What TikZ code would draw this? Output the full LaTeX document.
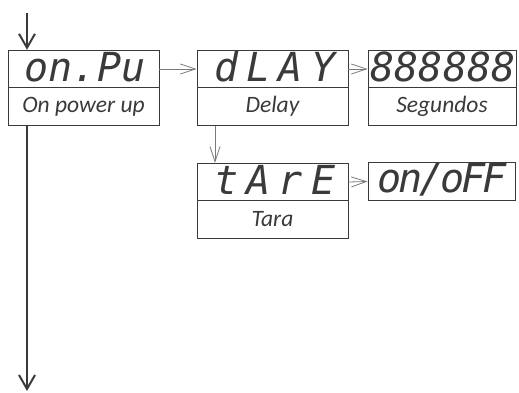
\documentclass[tikz,border=0pt]{standalone}
\usepackage{fontspec}
\setmainfont{Carlito}
\newfontfamily\segfont{DejaVu Sans Mono}
\usetikzlibrary{arrows.meta}
\definecolor{ink}{HTML}{3A3A3A}
\definecolor{thin}{HTML}{7A7A7A}
\tikzset{
  x=1pt,y=-1pt,
  boxpart/.style={draw=ink,line width=0.9pt,inner sep=0pt,minimum height=37.5pt,anchor=center,text=ink},
  segtext/.style={font=\segfont\itshape\fontsize{40}{40}\selectfont},
  lbltext/.style={font=\itshape\fontsize{23.5}{23.5}\selectfont},
  mainline/.style={draw=ink,line width=2pt,-{Straight Barb[length=14pt,width=16pt,line width=2pt]}},
  thinline/.style={draw=thin,line width=0.8pt,-{Straight Barb[length=15pt,width=10pt,line width=0.8pt]}},
}
\begin{document}
\begin{tikzpicture}
\useasboundingbox (0,0) rectangle (519,392);
% box 1
\node[boxpart,minimum width=151pt] (onpu) at (83.5,69) {};
\node[boxpart,minimum width=151pt] (onpul) at (83.5,106.5) {};
\node[segtext,text=ink] (onpuT) at (85,67) {on.Pu};
\node[lbltext,text=ink] (onpuL) at (83.5,106.5) {On power up};
% box 2
\node[boxpart,minimum width=151pt] (dlay) at (272.5,69) {};
\node[boxpart,minimum width=151pt] (dlayl) at (272.5,106.5) {};
\node[segtext,text=ink] (dlayT) at (275,67) {\addfontfeature{LetterSpace=20}dLAY};
\node[lbltext,text=ink] (dlayL) at (272.5,106.5) {Delay};
% box 3
\node[boxpart,minimum width=148pt] (seg) at (442,69) {};
\node[boxpart,minimum width=148pt] (segl) at (442,106.5) {};
\node[segtext,text=ink] (segT) at (443,67) {888888};
\node[lbltext,text=ink] (segL) at (442,106.5) {Segundos};
% box 4
\node[boxpart,minimum width=151pt] (tare) at (272.5,182) {};
\node[boxpart,minimum width=151pt] (tarel) at (272.5,219.5) {};
\node[segtext,text=ink] (tareT) at (275,180) {\addfontfeature{LetterSpace=20}tArE};
\node[lbltext,text=ink] (tareL) at (272.5,219.5) {Tara};
% box 5
\node[boxpart,minimum width=147pt] (onoff) at (441.5,181.5) {};
\node[segtext,text=ink] (onoffT) at (442,180) {\addfontfeature{LetterSpace=-8}on/oFF};
% main line
\coordinate (top) at (27,13);
\coordinate (bot) at (27,391);
\draw[mainline] (top) -- (onpu.north -| top);
\draw[mainline] (onpul.south -| top) -- (bot);
% connectors
\draw[thinline] (onpu.east) -- (dlay.west);
\draw[thinline] (dlay.east) -- (seg.west);
\draw[thinline] (tare.east) -- (onoff.west);
\draw[thinline] (dlayl.south -| 215,0) -- (tare.north -| 215,0);
\end{tikzpicture}
\end{document}
